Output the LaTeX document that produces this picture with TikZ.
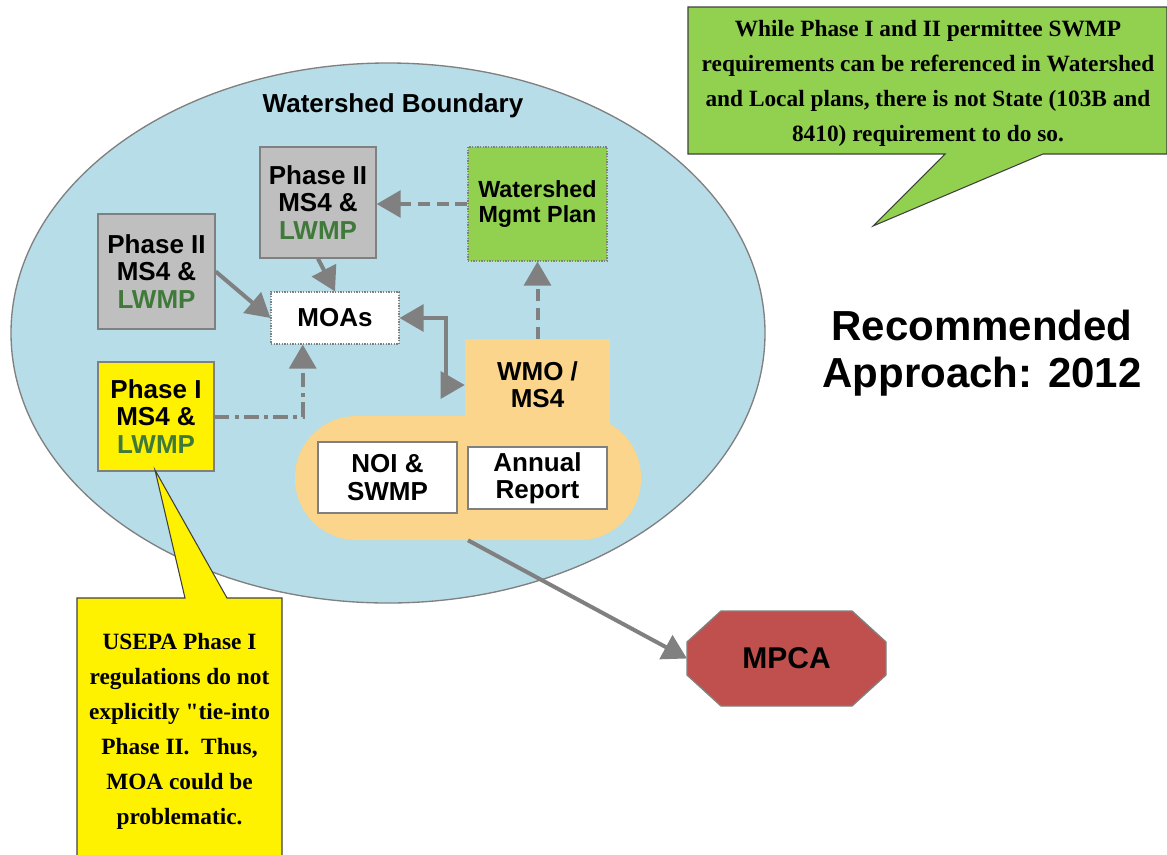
\documentclass[tikz,border=0pt]{standalone}
\usepackage{fontspec}
\setmainfont{Liberation Sans}
\newfontfamily\noteserif{Liberation Serif}
\usetikzlibrary{arrows.meta,calc}

\definecolor{basin}{HTML}{B7DDE8}
\definecolor{edgegray}{HTML}{808080}
\definecolor{boxgray}{HTML}{BFBFBF}
\definecolor{planegreen}{HTML}{92D050}
\definecolor{wmoorange}{HTML}{FAD58B}
\definecolor{mpcared}{HTML}{C0504D}
\definecolor{lwmp}{HTML}{3F7A3A}
\definecolor{arrowgray}{HTML}{808080}
\definecolor{noteedge}{HTML}{404040}

\newcommand{\lw}{\textcolor{lwmp}{LWMP}}

\begin{document}
\begin{tikzpicture}[x=0.75pt,y=-0.75pt,
  boxfont/.style={font=\fontsize{19.5}{20.5}\selectfont\bfseries},
  box/.style={draw=edgegray, line width=1pt, align=center, inner sep=0pt, boxfont},
  graybox/.style={box, fill=boxgray},
  conn/.style={draw=arrowgray, line width=3pt, -{Triangle[length=18pt,width=20pt]}},
  dashconn/.style={conn, dash pattern=on 9pt off 5pt},
  dotdashconn/.style={conn, dash pattern=on 11pt off 4pt on 3pt off 4pt},
  notefont/.style={font=\noteserif\fontsize{17.5}{26.25}\selectfont\bfseries},
  note/.style={fill=#1, draw=noteedge, line width=0.8pt, line join=miter}
]
\useasboundingbox (0,0) rectangle (1167,854);

% watershed ellipse
\draw[fill=basin, draw=edgegray, line width=1pt] (388,333) ellipse [x radius=377, y radius=270];
\node[boxfont] (title) at (393,106) {Watershed Boundary};

% orange WMO / MS4 group
\node[fill=wmoorange, rounded corners=46pt, minimum width=259.5pt, minimum height=93pt, inner sep=0pt] (pill) at (468,478) {};
\node[fill=wmoorange, align=center, inner sep=0pt, minimum width=108.75pt, minimum height=69pt, boxfont] (wmo) at (537.5,385) {WMO /\\MS4};
\node[box, fill=white, minimum width=104.25pt, minimum height=53.25pt] (noi) at (387.5,477.5) {NOI \&\\SWMP};
\node[box, fill=white, minimum width=104.25pt, minimum height=46.5pt] (annual) at (537.5,478) {Annual\\Report};

% permittee boxes
\node[graybox, minimum width=87pt, minimum height=83.25pt] (p2a) at (318,202.5) {Phase II\\MS4 \&\\\lw};
\node[graybox, minimum width=87.75pt, minimum height=86.25pt] (p2b) at (156.5,271.5) {Phase II\\MS4 \&\\\lw};
\node[box, fill=yellow, minimum width=87pt, minimum height=81.75pt] (p1) at (156,416.5) {Phase I\\MS4 \&\\\lw};

% MOAs and watershed plan
\node[box, fill=white, densely dotted, line width=0.8pt, minimum width=96pt, minimum height=39pt] (moa) at (335,318) {MOAs};
\node[box, fill=planegreen, densely dotted, line width=0.8pt, minimum width=104.25pt, minimum height=85.5pt, font=\fontsize{17.5}{18.5}\selectfont\bfseries] (wmp) at (537.5,204) {Watershed\\Mgmt Plan};

% MPCA octagon
\node[minimum width=149.25pt, minimum height=71.25pt, inner sep=0pt, outer sep=0pt] (mpca) at (786.5,658.5) {};
\draw[fill=mpcared, draw=edgegray, line width=1pt]
  ($(mpca.north west)+(34,0)$) -- ($(mpca.north east)+(-34,0)$) -- ($(mpca.north east)+(0,31)$)
  -- ($(mpca.south east)+(0,-31)$) -- ($(mpca.south east)+(-34,0)$) -- ($(mpca.south west)+(34,0)$)
  -- ($(mpca.south west)+(0,-31)$) -- ($(mpca.north west)+(0,31)$) -- cycle;
\node[font=\fontsize{22.5}{24}\selectfont\bfseries] (mpcatext) at (mpca.center) {MPCA};

% connectors
\draw[conn] (p2b.east) -- (moa.west);
\draw[conn] (p2a.south) -- (moa.north);
\draw[dotdashconn] (p1.east) -| ($(moa.south west)!0.25!(moa.south east)$);
\draw[conn, {Triangle[length=18pt,width=20pt]}-{Triangle[length=18pt,width=20pt]}] (moa.east) -- ++(46,0) |- (wmo.west);
\draw[dashconn] (wmo.north) -- (wmp.south);
\draw[dashconn] (wmp.west) -- (wmp.west -| p2a.east);
\draw[conn] (pill.south) -- (mpca.west);

% heading
\node[align=center, font=\fontsize{31.5}{35}\selectfont\bfseries] (rec) at (982,353) {Recommended\\Approach: 2012};

% green callout
\draw[note=planegreen] (688,7) -- (1167,7) -- (1167,154) -- (1043,154) -- (873,226) -- (945,154) -- (688,154) -- cycle;
\node[notefont, align=center] (note1) at (928,83) {While Phase I and II permittee SWMP\\requirements can be referenced in Watershed\\and Local plans, there is not State (103B and\\8410) requirement to do so.};

% yellow callout
\draw[note=yellow] (77,870) -- (77,598) -- (185,598) -- (155,470) -- (227,598) -- (282,598) -- (282,870);
\node[notefont, align=center] (note2) at (179.5,731) {USEPA Phase I\\regulations do not\\explicitly "tie-into\\Phase II.\ \ Thus,\\MOA could be\\problematic.};
\end{tikzpicture}
\end{document}
